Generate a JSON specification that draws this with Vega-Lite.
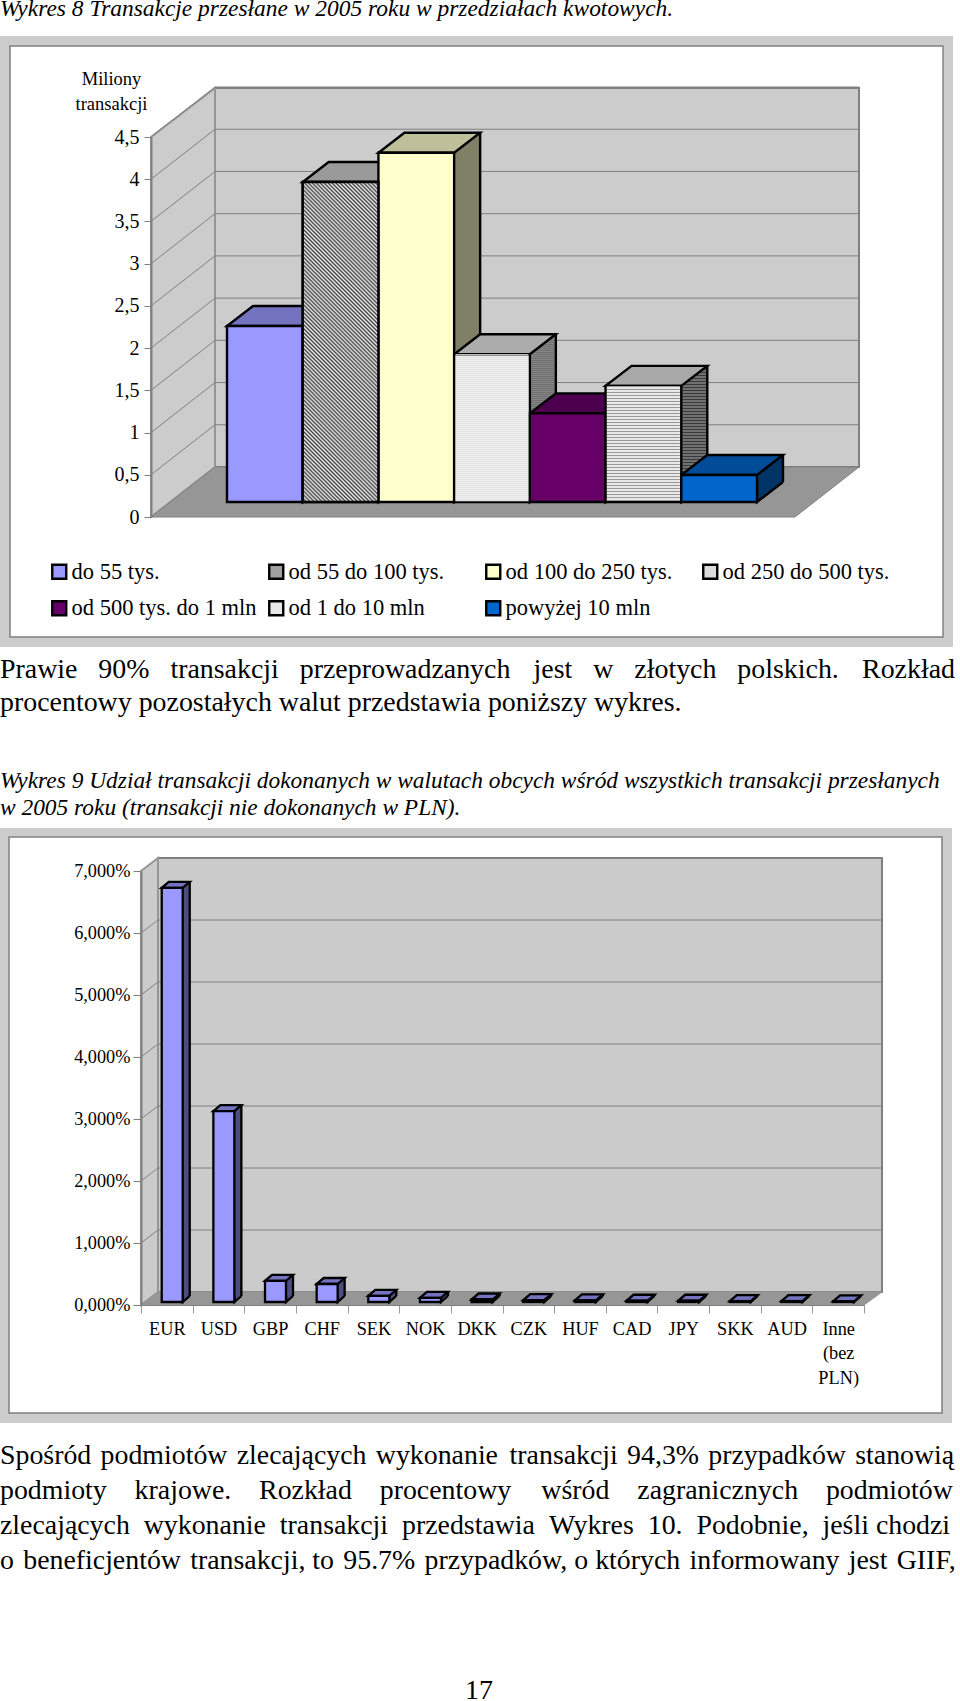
{"$schema":"https://vega.github.io/schema/vega-lite/v6.json","padding":0,"background":"white","bounds":"flush","spacing":0,"config":{"view":{"stroke":null},"font":"Liberation Serif"},"vconcat":[
{"width":960,"height":36,"data":{"values":[{"line":1,"text":"Wykres 8 Transakcje przesłane w 2005 roku w przedziałach kwotowych."}]},"mark":{"type":"text","align":"left","baseline":"alphabetic","font":"Liberation Serif","fontStyle":"italic","fontSize":23.45,"clip":true,"color":"black"},"encoding":{"x":{"value":0},"y":{"field":"line","type":"quantitative","scale":{"domain":[1,2],"range":[16,49]},"axis":null},"text":{"field":"text"}}},
{"width":953,"height":611,"view":{"fill":"#cccccc","stroke":null},
"data":{"values":[{"bar":"do 55 tys.","value":2.085},{"bar":"od 55 do 100 tys.","value":3.79},{"bar":"od 100 do 250 tys.","value":4.135},{"bar":"od 250 do 500 tys.","value":1.75},{"bar":"od 500 tys. do 1 mln","value":1.05},{"bar":"od 1 do 10 mln","value":1.375},{"bar":"powyżej 10 mln","value":0.32}]},
"encoding":{"x":{"field":"bar","type":"nominal","sort":null,"axis":null,"scale":{"type":"band","domain":["do 55 tys.","od 55 do 100 tys.","od 100 do 250 tys.","od 250 do 500 tys.","od 500 tys. do 1 mln","od 1 do 10 mln","powyżej 10 mln"],"range":[227,757],"paddingInner":0,"paddingOuter":0}},
"y":{"field":"value","type":"quantitative","stack":null,"scale":{"domain":[0,4.5],"range":[481,101],"nice":false},"axis":{"offset":-151,"values":[0,0.5,1,1.5,2,2.5,3,3.5,4,4.5],"labelExpr":"replace(format(datum.value,'.1~f'),'.',',')","labelFont":"Liberation Serif","labelFontSize":20,"labelColor":"black","labelPadding":5,"tickSize":7,"tickColor":"#808080","domainColor":"#808080","domainWidth":2,"grid":false,"zindex":1,"title":["Miliony","transakcji"],"titleAngle":0,"titleX":-40,"titleY":48,"titleAlign":"center","titleBaseline":"alphabetic","titleFont":"Liberation Serif","titleFontWeight":"normal","titleFontSize":18.5,"titleLineHeight":25,"titleColor":"black"}}},
"layer":[
{"data":{"values":[{"part":"frame","base":0}]},"mark":{"type":"point","shape":"M-141 -471L792 -471L792 120L-141 120Z","size":4,"filled":true,"opacity":1,"fill":"white","stroke":"#808080","strokeWidth":1.5,"xOffset":-113.85},"encoding":{"x":{"datum":"do 55 tys.","type":"nominal"},"y":{"field":"base","type":"quantitative"}}},
{"data":{"values":[{"part":"back wall","base":0}]},"mark":{"type":"point","shape":"M64 -50L708 -50L708 -429L64 -429Z","size":4,"filled":true,"opacity":1,"fill":"#cccccc","stroke":"#808080","strokeWidth":2,"xOffset":-113.85},"encoding":{"x":{"datum":"do 55 tys.","type":"nominal"},"y":{"field":"base","type":"quantitative"}}},
{"data":{"values":[{"part":"side wall","base":0}]},"mark":{"type":"point","shape":"M0 0L64 -50L64 -429L0 -380Z","size":4,"filled":true,"opacity":1,"fill":"#cccccc","stroke":"#969696","strokeWidth":2,"xOffset":-113.85},"encoding":{"x":{"datum":"do 55 tys.","type":"nominal"},"y":{"field":"base","type":"quantitative"}}},
{"data":{"values":[{"tick":0.5},{"tick":1},{"tick":1.5},{"tick":2},{"tick":2.5},{"tick":3},{"tick":3.5},{"tick":4},{"tick":4.5}]},"mark":{"type":"point","shape":"M0 0L64 -50L708 -50","size":4,"opacity":1,"fill":"transparent","stroke":"#808080","strokeWidth":1,"xOffset":-113.85},"encoding":{"x":{"datum":"do 55 tys.","type":"nominal"},"y":{"field":"tick","type":"quantitative"}}},
{"data":{"values":[{"part":"floor","base":0}]},"mark":{"type":"point","shape":"M0 0L644 0L708 -50L64 -50Z","size":4,"filled":true,"opacity":1,"fill":"#969696","stroke":"#808080","strokeWidth":1,"xOffset":-113.85},"encoding":{"x":{"datum":"do 55 tys.","type":"nominal"},"y":{"field":"base","type":"quantitative"}}},
{"mark":{"type":"bar","size":26,"xOffset":50.85,"yOffset":-35,"y2Offset":-35},"encoding":{"y2":{"datum":0},"color":{"field":"bar","type":"nominal","sort":null,"legend":null,"scale":{"range":["#4d4d80","#707070","#808066","#909090","#330033","#707070","#003366"]}}}},
{"mark":{"type":"point","shape":"M0 -20L0 0L26 -20","size":4,"filled":true,"opacity":1,"stroke":"black","strokeWidth":2.4,"xOffset":37.85,"yOffset":-15},"encoding":{"y":{"datum":0,"type":"quantitative"},"color":{"field":"bar","type":"nominal","sort":null,"legend":null,"scale":{"range":["#4d4d80","#707070","#808066","#808080","#330033","#707070","#003366"]}}}},
{"transform":[{"filter":"datum.bar=='od 1 do 10 mln'"}],"mark":{"type":"rule","stroke":"#3a3a3a","strokeWidth":24,"strokeDash":[1,2],"xOffset":50.85,"yOffset":-35,"y2Offset":-35},"encoding":{"y2":{"datum":0}}},
{"transform":[{"filter":"datum.bar=='od 250 do 500 tys.'"}],"mark":{"type":"rule","stroke":"#666666","strokeWidth":24,"strokeDash":[1,1],"xOffset":50.85,"yOffset":-35,"y2Offset":-35},"encoding":{"y2":{"datum":0}}},
{"mark":{"type":"rule","stroke":"black","strokeWidth":2.4,"xOffset":63.85,"yOffset":-35,"y2Offset":-35},"encoding":{"y2":{"datum":0}}},
{"mark":{"type":"point","shape":"M0 0L75.7 0L101.7 -20L26 -20Z","size":4,"filled":true,"opacity":1,"stroke":"black","strokeWidth":2.4,"xOffset":-37.85,"yOffset":-15},"encoding":{"color":{"field":"bar","type":"nominal","sort":null,"legend":null,"scale":{"range":["#7373bf","#9a9a9a","#bfbf99","#acacac","#4d004d","#a8a8a8","#004c99"]}}}},
{"mark":{"type":"bar","stroke":"black","strokeWidth":2.4,"yOffset":-15,"y2Offset":-15},"encoding":{"y2":{"datum":0},"color":{"field":"bar","type":"nominal","sort":null,"scale":{"range":["#9999ff","#a0a0a0","#ffffcc","#dcdcdc","#660066","#e8e8e8","#0066cc"]},"legend":{"title":null,"orient":"none","legendX":48,"legendY":524,"direction":"horizontal","columns":4,"gridAlign":"all","columnPadding":7,"rowPadding":12,"symbolType":"square","symbolSize":196,"symbolStrokeColor":"black","symbolStrokeWidth":2.4,"symbolOpacity":1,"labelFont":"Liberation Serif","labelFontSize":22.5,"labelColor":"black","labelLimit":300,"labelOffset":1,"padding":0}}}},
{"transform":[{"filter":"datum.bar=='od 1 do 10 mln'"}],"mark":{"type":"rule","stroke":"#999999","strokeWidth":73,"strokeDash":[1,2],"yOffset":-15,"y2Offset":-15},"encoding":{"y2":{"datum":0}}},
{"transform":[{"filter":"datum.bar=='od 250 do 500 tys.'"}],"mark":{"type":"rule","stroke":"#f6f6f6","strokeWidth":73,"strokeDash":[1,1],"yOffset":-15,"y2Offset":-15},"encoding":{"y2":{"datum":0}}},
{"transform":[{"filter":"datum.bar=='od 55 do 100 tys.'"}],"mark":{"type":"bar","stroke":"black","strokeWidth":2.4,"yOffset":-15,"y2Offset":-15,"fill":{"gradient":"linear","x1":0,"y1":1,"x2":0.2782,"y2":-0.1714,"stops":[{"offset":0,"color":"#404040"},{"offset":0.005,"color":"#f0f0f0"},{"offset":0.01,"color":"#404040"},{"offset":0.015,"color":"#f0f0f0"},{"offset":0.02,"color":"#404040"},{"offset":0.025,"color":"#f0f0f0"},{"offset":0.03,"color":"#404040"},{"offset":0.035,"color":"#f0f0f0"},{"offset":0.04,"color":"#404040"},{"offset":0.045,"color":"#f0f0f0"},{"offset":0.05,"color":"#404040"},{"offset":0.055,"color":"#f0f0f0"},{"offset":0.06,"color":"#404040"},{"offset":0.065,"color":"#f0f0f0"},{"offset":0.07,"color":"#404040"},{"offset":0.075,"color":"#f0f0f0"},{"offset":0.08,"color":"#404040"},{"offset":0.085,"color":"#f0f0f0"},{"offset":0.09,"color":"#404040"},{"offset":0.095,"color":"#f0f0f0"},{"offset":0.1,"color":"#404040"},{"offset":0.105,"color":"#f0f0f0"},{"offset":0.11,"color":"#404040"},{"offset":0.115,"color":"#f0f0f0"},{"offset":0.12,"color":"#404040"},{"offset":0.125,"color":"#f0f0f0"},{"offset":0.13,"color":"#404040"},{"offset":0.135,"color":"#f0f0f0"},{"offset":0.14,"color":"#404040"},{"offset":0.145,"color":"#f0f0f0"},{"offset":0.15,"color":"#404040"},{"offset":0.155,"color":"#f0f0f0"},{"offset":0.16,"color":"#404040"},{"offset":0.165,"color":"#f0f0f0"},{"offset":0.17,"color":"#404040"},{"offset":0.175,"color":"#f0f0f0"},{"offset":0.18,"color":"#404040"},{"offset":0.185,"color":"#f0f0f0"},{"offset":0.19,"color":"#404040"},{"offset":0.195,"color":"#f0f0f0"},{"offset":0.2,"color":"#404040"},{"offset":0.205,"color":"#f0f0f0"},{"offset":0.21,"color":"#404040"},{"offset":0.215,"color":"#f0f0f0"},{"offset":0.22,"color":"#404040"},{"offset":0.225,"color":"#f0f0f0"},{"offset":0.23,"color":"#404040"},{"offset":0.235,"color":"#f0f0f0"},{"offset":0.24,"color":"#404040"},{"offset":0.245,"color":"#f0f0f0"},{"offset":0.25,"color":"#404040"},{"offset":0.255,"color":"#f0f0f0"},{"offset":0.26,"color":"#404040"},{"offset":0.265,"color":"#f0f0f0"},{"offset":0.27,"color":"#404040"},{"offset":0.275,"color":"#f0f0f0"},{"offset":0.28,"color":"#404040"},{"offset":0.285,"color":"#f0f0f0"},{"offset":0.29,"color":"#404040"},{"offset":0.295,"color":"#f0f0f0"},{"offset":0.3,"color":"#404040"},{"offset":0.305,"color":"#f0f0f0"},{"offset":0.31,"color":"#404040"},{"offset":0.315,"color":"#f0f0f0"},{"offset":0.32,"color":"#404040"},{"offset":0.325,"color":"#f0f0f0"},{"offset":0.33,"color":"#404040"},{"offset":0.335,"color":"#f0f0f0"},{"offset":0.34,"color":"#404040"},{"offset":0.345,"color":"#f0f0f0"},{"offset":0.35,"color":"#404040"},{"offset":0.355,"color":"#f0f0f0"},{"offset":0.36,"color":"#404040"},{"offset":0.365,"color":"#f0f0f0"},{"offset":0.37,"color":"#404040"},{"offset":0.375,"color":"#f0f0f0"},{"offset":0.38,"color":"#404040"},{"offset":0.385,"color":"#f0f0f0"},{"offset":0.39,"color":"#404040"},{"offset":0.395,"color":"#f0f0f0"},{"offset":0.4,"color":"#404040"},{"offset":0.405,"color":"#f0f0f0"},{"offset":0.41,"color":"#404040"},{"offset":0.415,"color":"#f0f0f0"},{"offset":0.42,"color":"#404040"},{"offset":0.425,"color":"#f0f0f0"},{"offset":0.43,"color":"#404040"},{"offset":0.435,"color":"#f0f0f0"},{"offset":0.44,"color":"#404040"},{"offset":0.445,"color":"#f0f0f0"},{"offset":0.45,"color":"#404040"},{"offset":0.455,"color":"#f0f0f0"},{"offset":0.46,"color":"#404040"},{"offset":0.465,"color":"#f0f0f0"},{"offset":0.47,"color":"#404040"},{"offset":0.475,"color":"#f0f0f0"},{"offset":0.48,"color":"#404040"},{"offset":0.485,"color":"#f0f0f0"},{"offset":0.49,"color":"#404040"},{"offset":0.495,"color":"#f0f0f0"},{"offset":0.5,"color":"#404040"},{"offset":0.505,"color":"#f0f0f0"},{"offset":0.51,"color":"#404040"},{"offset":0.515,"color":"#f0f0f0"},{"offset":0.52,"color":"#404040"},{"offset":0.525,"color":"#f0f0f0"},{"offset":0.53,"color":"#404040"},{"offset":0.535,"color":"#f0f0f0"},{"offset":0.54,"color":"#404040"},{"offset":0.545,"color":"#f0f0f0"},{"offset":0.55,"color":"#404040"},{"offset":0.555,"color":"#f0f0f0"},{"offset":0.56,"color":"#404040"},{"offset":0.565,"color":"#f0f0f0"},{"offset":0.57,"color":"#404040"},{"offset":0.575,"color":"#f0f0f0"},{"offset":0.58,"color":"#404040"},{"offset":0.585,"color":"#f0f0f0"},{"offset":0.59,"color":"#404040"},{"offset":0.595,"color":"#f0f0f0"},{"offset":0.6,"color":"#404040"},{"offset":0.605,"color":"#f0f0f0"},{"offset":0.61,"color":"#404040"},{"offset":0.615,"color":"#f0f0f0"},{"offset":0.62,"color":"#404040"},{"offset":0.625,"color":"#f0f0f0"},{"offset":0.63,"color":"#404040"},{"offset":0.635,"color":"#f0f0f0"},{"offset":0.64,"color":"#404040"},{"offset":0.645,"color":"#f0f0f0"},{"offset":0.65,"color":"#404040"},{"offset":0.655,"color":"#f0f0f0"},{"offset":0.66,"color":"#404040"},{"offset":0.665,"color":"#f0f0f0"},{"offset":0.67,"color":"#404040"},{"offset":0.675,"color":"#f0f0f0"},{"offset":0.68,"color":"#404040"},{"offset":0.685,"color":"#f0f0f0"},{"offset":0.69,"color":"#404040"},{"offset":0.695,"color":"#f0f0f0"},{"offset":0.7,"color":"#404040"},{"offset":0.705,"color":"#f0f0f0"},{"offset":0.71,"color":"#404040"},{"offset":0.715,"color":"#f0f0f0"},{"offset":0.72,"color":"#404040"},{"offset":0.725,"color":"#f0f0f0"},{"offset":0.73,"color":"#404040"},{"offset":0.735,"color":"#f0f0f0"},{"offset":0.74,"color":"#404040"},{"offset":0.745,"color":"#f0f0f0"},{"offset":0.75,"color":"#404040"},{"offset":0.755,"color":"#f0f0f0"},{"offset":0.76,"color":"#404040"},{"offset":0.765,"color":"#f0f0f0"},{"offset":0.77,"color":"#404040"},{"offset":0.775,"color":"#f0f0f0"},{"offset":0.78,"color":"#404040"},{"offset":0.785,"color":"#f0f0f0"},{"offset":0.79,"color":"#404040"},{"offset":0.795,"color":"#f0f0f0"},{"offset":0.8,"color":"#404040"},{"offset":0.805,"color":"#f0f0f0"},{"offset":0.81,"color":"#404040"},{"offset":0.815,"color":"#f0f0f0"},{"offset":0.82,"color":"#404040"},{"offset":0.825,"color":"#f0f0f0"},{"offset":0.83,"color":"#404040"},{"offset":0.835,"color":"#f0f0f0"},{"offset":0.84,"color":"#404040"},{"offset":0.845,"color":"#f0f0f0"},{"offset":0.85,"color":"#404040"},{"offset":0.855,"color":"#f0f0f0"},{"offset":0.86,"color":"#404040"},{"offset":0.865,"color":"#f0f0f0"},{"offset":0.87,"color":"#404040"},{"offset":0.875,"color":"#f0f0f0"},{"offset":0.88,"color":"#404040"},{"offset":0.885,"color":"#f0f0f0"},{"offset":0.89,"color":"#404040"},{"offset":0.895,"color":"#f0f0f0"},{"offset":0.9,"color":"#404040"},{"offset":0.905,"color":"#f0f0f0"},{"offset":0.91,"color":"#404040"},{"offset":0.915,"color":"#f0f0f0"},{"offset":0.92,"color":"#404040"},{"offset":0.925,"color":"#f0f0f0"},{"offset":0.93,"color":"#404040"},{"offset":0.935,"color":"#f0f0f0"},{"offset":0.94,"color":"#404040"},{"offset":0.945,"color":"#f0f0f0"},{"offset":0.95,"color":"#404040"},{"offset":0.955,"color":"#f0f0f0"},{"offset":0.96,"color":"#404040"},{"offset":0.965,"color":"#f0f0f0"},{"offset":0.97,"color":"#404040"},{"offset":0.975,"color":"#f0f0f0"},{"offset":0.98,"color":"#404040"},{"offset":0.985,"color":"#f0f0f0"},{"offset":0.99,"color":"#404040"},{"offset":0.995,"color":"#f0f0f0"},{"offset":1,"color":"#404040"}]}},"encoding":{"y2":{"datum":0}}}
],"resolve":{"scale":{"color":"independent"}}},
{"width":960,"height":181,"layer":[
{"data":{"values":[{"line":1,"text":"Prawie \u00a0\u00a090% \u00a0\u00a0transakcji \u00a0\u00a0przeprowadzanych \u00a0\u00a0\u200ajest \u00a0\u00a0w \u00a0\u00a0złotych \u00a0\u00a0polskich. \u00a0\u00a0\u200aRozkład"},{"line":2,"text":"procentowy pozostałych walut przedstawia poniższy wykres."}]},"mark":{"type":"text","align":"left","baseline":"alphabetic","font":"Liberation Serif","fontSize":27.9,"color":"black"},"encoding":{"x":{"value":0},"y":{"field":"line","type":"quantitative","scale":{"domain":[1,2],"range":[31,64]},"axis":null},"text":{"field":"text"}}},
{"data":{"values":[{"line":1,"text":"Wykres 9 Udział transakcji dokonanych w walutach obcych wśród wszystkich transakcji przesłanych"},{"line":2,"text":"w 2005 roku (transakcji nie dokonanych w PLN)."}]},"mark":{"type":"text","align":"left","baseline":"alphabetic","font":"Liberation Serif","fontStyle":"italic","fontSize":23.4,"color":"black"},"encoding":{"x":{"value":0},"y":{"field":"line","type":"quantitative","scale":{"domain":[1,2],"range":[141,168]},"axis":null},"text":{"field":"text"}}}
],"resolve":{"scale":{"y":"independent"}}},
{"width":952,"height":595,"view":{"fill":"#cccccc","stroke":null},
"data":{"values":[{"currency":"EUR","value":6.68},{"currency":"USD","value":3.08},{"currency":"GBP","value":0.34},{"currency":"CHF","value":0.29},{"currency":"SEK","value":0.1},{"currency":"NOK","value":0.065},{"currency":"DKK","value":0.04},{"currency":"CZK","value":0.03},{"currency":"HUF","value":0.025},{"currency":"CAD","value":0.02},{"currency":"JPY","value":0.02},{"currency":"SKK","value":0.015},{"currency":"AUD","value":0.015},{"currency":"Inne (bez PLN)","value":0.01}]},
"encoding":{"x":{"field":"currency","type":"nominal","sort":null,"scale":{"type":"band","domain":["EUR","USD","GBP","CHF","SEK","NOK","DKK","CZK","HUF","CAD","JPY","SKK","AUD","Inne (bez PLN)"],"range":[141,864],"paddingInner":0,"paddingOuter":0},"axis":{"offset":-118,"title":null,"labelAngle":0,"tickBand":"extent","tickSize":8,"tickColor":"#999999","domainColor":"#808080","domainWidth":1,"labelFont":"Liberation Serif","labelFontSize":18.3,"labelColor":"black","labelPadding":7,"labelBaseline":"top","labelLineHeight":24.5,"labelExpr":"datum.label=='Inne (bez PLN)'?['Inne','(bez','PLN)']:datum.label","labelOverlap":false,"zindex":1}},
"y":{"field":"value","type":"quantitative","stack":null,"scale":{"domain":[0,7],"range":[477,43],"nice":false},"axis":{"offset":-141,"title":null,"values":[0,1,2,3,4,5,6,7],"labelExpr":"replace(format(datum.value,'.3f'),'.',',')+'%'","labelFont":"Liberation Serif","labelFontSize":18.3,"labelColor":"black","labelPadding":3,"tickSize":8,"tickColor":"#808080","domainColor":"#808080","domainWidth":2,"grid":false,"zindex":1}}},
"layer":[
{"data":{"values":[{"part":"frame","base":0}]},"mark":{"type":"point","shape":"M-132 -468L801 -468L801 108L-132 108Z","size":4,"filled":true,"opacity":1,"fill":"white","stroke":"#808080","strokeWidth":1.5,"xOffset":-25.82},"encoding":{"x":{"datum":"EUR","type":"nominal"},"y":{"field":"base","type":"quantitative"}}},
{"data":{"values":[{"part":"back wall","base":0}]},"mark":{"type":"point","shape":"M17 -13L741 -13L741 -447L17 -447Z","size":4,"filled":true,"opacity":1,"fill":"#cbcbcb","stroke":"#808080","strokeWidth":2,"xOffset":-25.82},"encoding":{"x":{"datum":"EUR","type":"nominal"},"y":{"field":"base","type":"quantitative"}}},
{"data":{"values":[{"part":"side wall","base":0}]},"mark":{"type":"point","shape":"M0 0L17 -13L17 -447L0 -434Z","size":4,"filled":true,"opacity":1,"fill":"#cbcbcb","stroke":"#969696","strokeWidth":2,"xOffset":-25.82},"encoding":{"x":{"datum":"EUR","type":"nominal"},"y":{"field":"base","type":"quantitative"}}},
{"data":{"values":[{"tick":1},{"tick":2},{"tick":3},{"tick":4},{"tick":5},{"tick":6}]},"mark":{"type":"point","shape":"M0 0L17 -13L741 -13","size":4,"opacity":1,"fill":"transparent","stroke":"#808080","strokeWidth":1,"xOffset":-25.82},"encoding":{"x":{"datum":"EUR","type":"nominal"},"y":{"field":"tick","type":"quantitative"}}},
{"data":{"values":[{"part":"floor","base":0}]},"mark":{"type":"point","shape":"M0 0L723 0L741 -13L17 -13Z","size":4,"filled":true,"opacity":1,"fill":"#969696","stroke":"#969696","strokeWidth":1,"xOffset":-25.82},"encoding":{"x":{"datum":"EUR","type":"nominal"},"y":{"field":"base","type":"quantitative"}}},
{"mark":{"type":"bar","size":7,"fill":"#4d4d80","xOffset":19.4,"yOffset":-9,"y2Offset":-9},"encoding":{"y2":{"datum":0}}},
{"mark":{"type":"point","shape":"M0 -6L0 0L7 -6","size":4,"filled":true,"opacity":1,"fill":"#4d4d80","stroke":"black","strokeWidth":2.3,"xOffset":15.9,"yOffset":-3},"encoding":{"y":{"datum":0,"type":"quantitative"}}},
{"mark":{"type":"rule","stroke":"black","strokeWidth":2.3,"xOffset":22.9,"yOffset":-9,"y2Offset":-9},"encoding":{"y2":{"datum":0}}},
{"mark":{"type":"point","shape":"M0 0L21 0L28 -6L7 -6Z","size":4,"filled":true,"opacity":1,"fill":"#7373bf","stroke":"black","strokeWidth":2.3,"xOffset":-5.1,"yOffset":-3}},
{"mark":{"type":"bar","size":21,"fill":"#9999ff","stroke":"black","strokeWidth":2.3,"xOffset":5.4,"yOffset":-3,"y2Offset":-3},"encoding":{"y2":{"datum":0}}}
]},
{"width":960,"height":278,"layer":[
{"data":{"values":[{"line":1,"text":"Spośród \u200apodmiotów \u200azlecających \u200awykonanie \u200a\u200atransakcji \u200a94,3% \u200aprzypadków \u200astanowią"},{"line":2,"text":"podmioty \u00a0\u00a0\u200a\u200a\u200akrajowe. \u00a0\u00a0\u200a\u200a\u200aRozkład \u00a0\u00a0\u200a\u200a\u200aprocentowy \u00a0\u00a0\u200a\u200a\u200a\u200awśród \u00a0\u00a0\u200a\u200a\u200azagranicznych \u00a0\u00a0\u200a\u200a\u200apodmiotów"},{"line":3,"text":"zlecających \u00a0wykonanie \u00a0transakcji \u00a0przedstawia \u00a0Wykres \u00a010. \u00a0Podobnie, \u00a0jeśli chodzi"},{"line":4,"text":"o \u200abeneficjentów \u200atransakcji, to \u200a95.7% \u200aprzypadków, o których \u200ainformowany \u200ajest \u200aGIIF,"}]},"mark":{"type":"text","align":"left","baseline":"alphabetic","font":"Liberation Serif","fontSize":27.85,"color":"black"},"encoding":{"x":{"value":0},"y":{"field":"line","type":"quantitative","scale":{"domain":[1,4],"range":[41,146]},"axis":null},"text":{"field":"text"}}},
{"data":{"values":[{"line":1,"text":"17"}]},"mark":{"type":"text","align":"center","baseline":"alphabetic","font":"Liberation Serif","fontSize":28,"color":"black","clip":true},"encoding":{"x":{"value":479},"y":{"field":"line","type":"quantitative","scale":{"domain":[1,2],"range":[276,300]},"axis":null},"text":{"field":"text"}}}
],"resolve":{"scale":{"y":"independent"}}}
]}
